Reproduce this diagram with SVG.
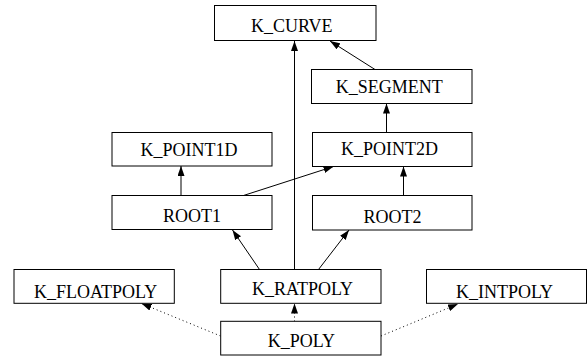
<svg xmlns="http://www.w3.org/2000/svg" width="588" height="356" viewBox="0 0 588 356">
<style>
.box{fill:#fff;stroke:#000;stroke-width:1}
.lbl{font-family:"Liberation Serif","Times New Roman",serif;font-size:18px;fill:#000;text-anchor:middle}
.e{stroke:#000;stroke-width:1;fill:none;marker-end:url(#ah)}
.d{stroke-dasharray:1,3}
</style>
<defs>
<marker id="ah" markerUnits="userSpaceOnUse" markerWidth="10" markerHeight="7" refX="10" refY="3.5" orient="auto">
<path d="M0,0 L10,3.5 L0,7 z" fill="#000"/>
</marker>
</defs>
<g id="connectors">
<line class="e" x1="294.5" y1="269.5" x2="294.5" y2="41"/>
<line class="e" x1="375" y1="69.5" x2="330" y2="41"/>
<line class="e" x1="386.5" y1="132.5" x2="386.5" y2="103.5"/>
<line class="e" x1="181" y1="195.5" x2="181" y2="166"/>
<line class="e" x1="243.5" y1="195.5" x2="333.5" y2="166.5"/>
<line class="e" x1="403.5" y1="195.5" x2="403.5" y2="166.5"/>
<line class="e" x1="259.5" y1="269.5" x2="232.5" y2="230"/>
<line class="e" x1="318.5" y1="269.5" x2="349" y2="230"/>
<line class="e d" x1="294.5" y1="321.5" x2="294.5" y2="303.5"/>
<line class="e d" x1="220.5" y1="336" x2="141.5" y2="303.5"/>
<line class="e d" x1="381" y1="336" x2="458" y2="304"/>
</g>
<g id="K_CURVE"><rect class="box" x="214.5" y="5.5" width="161.5" height="35"/><text class="lbl" x="291.7" y="31.7">K_CURVE</text></g>
<g id="K_SEGMENT"><rect class="box" x="311.5" y="69.5" width="160.5" height="34"/><text class="lbl" x="389.3" y="92.7">K_SEGMENT</text></g>
<g id="K_POINT1D"><rect class="box" x="112" y="132.5" width="160" height="33.5"/><text class="lbl" x="189" y="156">K_POINT1D</text></g>
<g id="K_POINT2D"><rect class="box" x="312.5" y="132.5" width="159.5" height="34"/><text class="lbl" x="389.5" y="155">K_POINT2D</text></g>
<g id="ROOT1"><rect class="box" x="112" y="195.5" width="160" height="34"/><text class="lbl" x="192" y="221.7">ROOT1</text></g>
<g id="ROOT2"><rect class="box" x="312.5" y="195.5" width="159.5" height="34.5"/><text class="lbl" x="392.5" y="222.7">ROOT2</text></g>
<g id="K_FLOATPOLY"><rect class="box" x="14" y="269.5" width="160.3" height="33.8"/><text class="lbl" x="95.6" y="298">K_FLOATPOLY</text></g>
<g id="K_RATPOLY"><rect class="box" x="220.7" y="269.5" width="160.3" height="33.8"/><text class="lbl" x="302.5" y="295">K_RATPOLY</text></g>
<g id="K_INTPOLY"><rect class="box" x="426.5" y="269.5" width="160" height="33.8"/><text class="lbl" x="504.5" y="297.7">K_INTPOLY</text></g>
<g id="K_POLY"><rect class="box" x="220.7" y="321.3" width="160.3" height="33.7"/><text class="lbl" x="301.3" y="346.7">K_POLY</text></g>
</svg>
